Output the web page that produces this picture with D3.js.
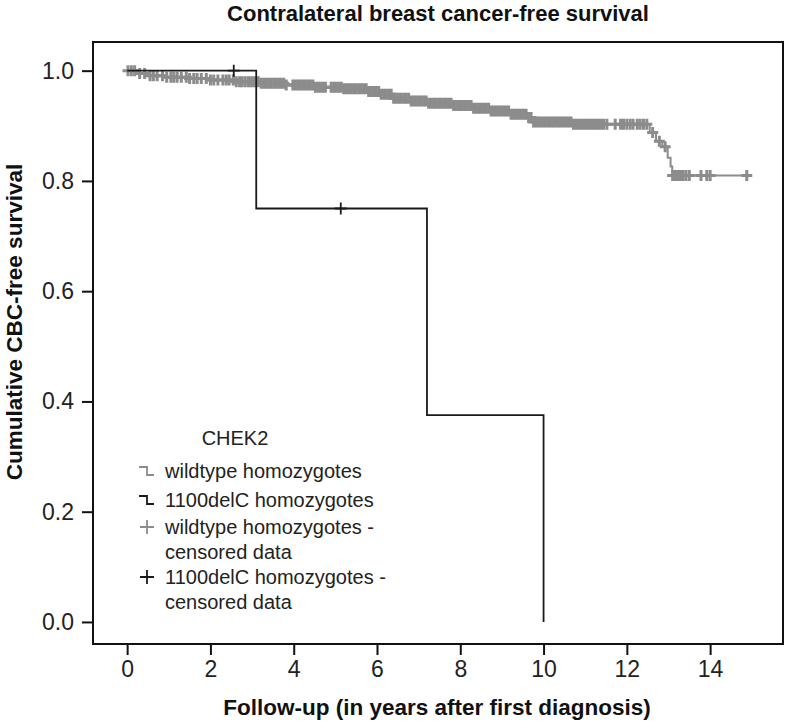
<!DOCTYPE html>
<html><head><meta charset="utf-8">
<script src="https://cdn.jsdelivr.net/npm/d3@7"></script>
<style>
html,body{margin:0;padding:0;background:#fff;}
svg text{font-family:"Liberation Sans",Arial,Helvetica,sans-serif;}
</style></head>
<body>
<svg id="chart" width="789" height="724"></svg>
<script>
// ---- data ----
const titleText = "Contralateral breast cancer-free survival";
const xLabel = "Follow-up (in years after first diagnosis)";
const yLabel = "Cumulative CBC-free survival";
const xTicks = [0, 2, 4, 6, 8, 10, 12, 14];
const yTicks = [0.0, 0.2, 0.4, 0.6, 0.8, 1.0];

// wildtype homozygotes: KM step times and survival
const wtTimes = [0, 0.25, 0.5, 0.9, 1.5, 2.0, 2.6, 3.2, 3.8, 4.5, 5.2, 5.8, 6.1, 6.4, 6.8, 7.2, 7.8, 8.3, 8.7, 9.2, 9.6, 9.75, 10.7, 12.55, 12.7, 12.85, 12.98, 13.05, 13.09, 14.9];
const wtSurv  = [1.0, 0.995, 0.991, 0.988, 0.986, 0.983, 0.980, 0.977, 0.974, 0.970, 0.967, 0.962, 0.957, 0.950, 0.945, 0.941, 0.937, 0.932, 0.927, 0.921, 0.915, 0.907, 0.903, 0.888, 0.872, 0.862, 0.842, 0.826, 0.810, 0.810];
const wtCensored = [0.02, 0.1, 0.18, 0.3, 0.42, 0.55, 0.63, 0.72, 0.85, 0.95, 1.05, 1.12, 1.2, 1.3, 1.42, 1.5, 1.6, 1.68, 1.78, 1.9, 2.0, 2.08, 2.18, 2.3, 2.38, 2.45, 2.55, 2.62, 2.7, 2.76, 2.83, 2.9, 2.96, 3.02, 3.08, 3.15, 3.22, 3.28, 3.34, 3.4, 3.46, 3.52, 3.58, 3.64, 3.7, 3.76, 3.82, 3.98, 4.04, 4.1, 4.16, 4.22, 4.28, 4.34, 4.4, 4.46, 4.52, 4.58, 4.64, 4.7, 4.76, 4.9, 4.96, 5.02, 5.08, 5.14, 5.2, 5.26, 5.32, 5.38, 5.44, 5.5, 5.56, 5.62, 5.68, 5.74, 5.8, 5.86, 5.92, 5.98, 6.04, 6.1, 6.16, 6.22, 6.28, 6.34, 6.4, 6.46, 6.52, 6.58, 6.64, 6.7, 6.76, 6.82, 6.88, 6.94, 7.0, 7.06, 7.12, 7.18, 7.24, 7.3, 7.36, 7.42, 7.48, 7.54, 7.6, 7.66, 7.72, 7.78, 7.84, 7.9, 7.96, 8.02, 8.08, 8.14, 8.2, 8.26, 8.32, 8.38, 8.44, 8.5, 8.56, 8.62, 8.68, 8.74, 8.8, 8.86, 8.92, 8.98, 9.04, 9.1, 9.16, 9.22, 9.28, 9.34, 9.4, 9.46, 9.52, 9.58, 9.64, 9.7, 9.76, 9.82, 9.88, 9.94, 10.0, 10.06, 10.12, 10.18, 10.24, 10.3, 10.36, 10.42, 10.48, 10.54, 10.6, 10.66, 10.72, 10.78, 10.84, 10.9, 10.96, 11.02, 11.08, 11.14, 11.2, 11.26, 11.32, 11.38, 11.44, 11.52, 11.72, 11.85, 11.92, 12.0, 12.08, 12.15, 12.25, 12.32, 12.4, 12.48, 12.62, 12.78, 12.92, 13.1, 13.15, 13.2, 13.25, 13.3, 13.35, 13.42, 13.5, 13.78, 13.92, 14.0, 14.88];

// 1100delC homozygotes
const dcTimes = [0, 3.1, 7.2, 10.0];
const dcSurv  = [1.0, 0.75, 0.375, 0.0];
const dcCensored = [2.56, 5.13];

const legendTitle = "CHEK2";
const legendItems = [
  {lines: ["wildtype homozygotes"], kind: "step", color: "#8c8c8c"},
  {lines: ["1100delC homozygotes"], kind: "step", color: "#1a1a1a"},
  {lines: ["wildtype homozygotes -", "censored data"], kind: "plus", color: "#8c8c8c"},
  {lines: ["1100delC homozygotes -", "censored data"], kind: "plus", color: "#1a1a1a"}
];

// ---- layout ----
const box = {left: 93, right: 783, top: 42, bottom: 644};
const xLim = [-0.82, 15.75];
const yLim = [-0.04, 1.052];
const svg = d3.select("#chart");
const x = d3.scaleLinear().domain(xLim).range([box.left, box.right]);
const y = d3.scaleLinear().domain(yLim).range([box.bottom, box.top]);

const grey = "#8c8c8c", black = "#1a1a1a";

// title
svg.append("text").attr("x", (box.left + box.right) / 2).attr("y", 21)
  .attr("text-anchor", "middle").attr("font-size", 22).attr("font-weight", "bold")
  .attr("fill", "#111").text(titleText);

// frame
svg.append("rect").attr("x", box.left).attr("y", box.top)
  .attr("width", box.right - box.left).attr("height", box.bottom - box.top)
  .attr("fill", "none").attr("stroke", "#111").attr("stroke-width", 2);

// axes
const xAxis = svg.append("g").attr("transform", `translate(0,${box.bottom})`)
  .call(d3.axisBottom(x).tickValues(xTicks).tickFormat(d3.format("d")).tickSize(11).tickSizeOuter(0).tickPadding(6));
const yAxis = svg.append("g").attr("transform", `translate(${box.left},0)`)
  .call(d3.axisLeft(y).tickValues(yTicks).tickFormat(d3.format(".1f")).tickSize(11).tickSizeOuter(0).tickPadding(8));
[xAxis, yAxis].forEach(g => {
  g.select(".domain").remove();
  g.selectAll(".tick line").attr("stroke", "#111").attr("stroke-width", 2);
  g.selectAll(".tick text").attr("font-size", 23).attr("fill", "#222")
    .style("font-family", "'Liberation Sans', Arial, sans-serif");
});

// axis titles
svg.append("text").attr("x", (box.left + box.right) / 2 - 1).attr("y", 715)
  .attr("text-anchor", "middle").attr("font-size", 22.5).attr("font-weight", "bold")
  .attr("fill", "#111").text(xLabel);
svg.append("text").attr("transform", `translate(14,${322}) rotate(-90)`)
  .attr("text-anchor", "middle").attr("dominant-baseline", "central")
  .attr("font-size", 22.5).attr("font-weight", "bold").attr("fill", "#111").text(yLabel);

// survival step lookup from data
function survAt(times, surv, t) {
  let s = surv[0];
  for (let i = 0; i < times.length; i++) { if (times[i] <= t) s = surv[i]; }
  return s;
}

const line = d3.line().x(d => x(d[0])).y(d => y(d[1])).curve(d3.curveStepAfter);
const plot = svg.append("g");

// wildtype curve
const wtPts = wtTimes.map((t, i) => [t, wtSurv[i]]);
plot.append("path").attr("d", line(wtPts)).attr("fill", "none")
  .attr("stroke", grey).attr("stroke-width", 2);
// wildtype censor marks
const pw = 5.5;
plot.selectAll(".wtc").data(wtCensored).enter().append("path")
  .attr("d", t => {
    const cx = x(t), cy = y(survAt(wtTimes, wtSurv, t));
    return `M${cx - pw},${cy}H${cx + pw}M${cx},${cy - pw}V${cy + pw}`;
  })
  .attr("stroke", grey).attr("stroke-width", 3).attr("fill", "none");

// 1100delC curve
const dcPts = dcTimes.map((t, i) => [t, dcSurv[i]]);
plot.append("path").attr("d", line(dcPts)).attr("fill", "none")
  .attr("stroke", black).attr("stroke-width", 1.8);
const pb = 6;
plot.selectAll(".dcc").data(dcCensored).enter().append("path")
  .attr("d", t => {
    const cx = x(t), cy = y(survAt(dcTimes, dcSurv, t));
    return `M${cx - pb},${cy}H${cx + pb}M${cx},${cy - pb}V${cy + pb}`;
  })
  .attr("stroke", black).attr("stroke-width", 1.8).attr("fill", "none");

// legend
const lg = svg.append("g");
lg.append("text").attr("x", 235).attr("y", 438).attr("text-anchor", "middle")
  .attr("dominant-baseline", "central")
  .attr("font-size", 20).attr("fill", "#222").text(legendTitle);
const rowY = [471, 500, 527, 577];
legendItems.forEach((it, i) => {
  const cy = rowY[i], sx = 147;
  if (it.kind === "step") {
    lg.append("path").attr("d", `M${sx - 8},${cy - 4}H${sx}V${cy + 4}H${sx + 7}`)
      .attr("fill", "none").attr("stroke", it.color).attr("stroke-width", 1.8);
  } else {
    lg.append("path").attr("d", `M${sx - 7},${cy}H${sx + 7}M${sx},${cy - 7}V${cy + 7}`)
      .attr("fill", "none").attr("stroke", it.color).attr("stroke-width", 1.8);
  }
  it.lines.forEach((ln, j) => {
    lg.append("text").attr("x", 165).attr("y", cy + j * 24.5).attr("dominant-baseline", "central")
      .attr("font-size", 20).attr("fill", "#222").text(ln);
  });
});
</script>
</body></html>
